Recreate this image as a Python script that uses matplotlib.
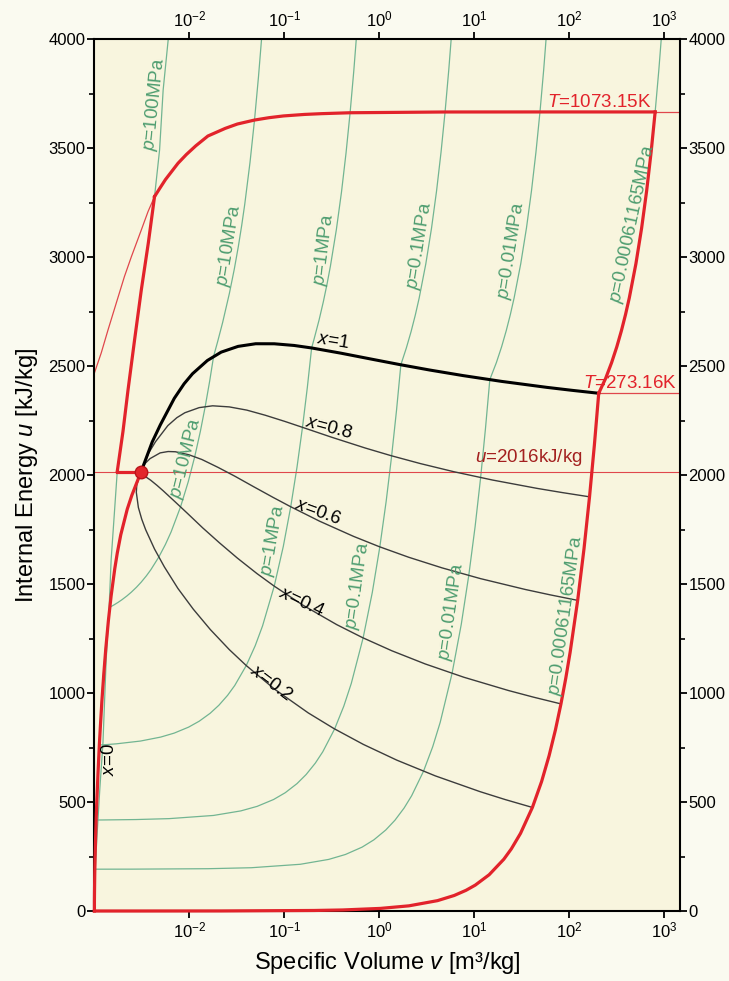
import matplotlib
matplotlib.use("Agg")
import matplotlib.pyplot as plt
from matplotlib.ticker import FixedLocator, MultipleLocator, NullLocator

plt.rcParams["font.family"] = ["Liberation Sans", "DejaVu Sans"]
plt.rcParams["mathtext.fontset"] = "custom"
plt.rcParams["mathtext.rm"] = "Liberation Sans"
plt.rcParams["mathtext.it"] = "Liberation Sans:italic"
plt.rcParams["mathtext.bf"] = "Liberation Sans:bold"

# saturation dome, T = 0.01 ... 373.95 C  (v in m3/kg, u in kJ/kg)
v_liq = [0.001000, 0.001000, 0.001002, 0.001008, 0.001017, 0.001029, 0.001043, 0.001060,
         0.001091, 0.001127, 0.001157, 0.001199, 0.001252, 0.001317, 0.001404, 0.001499,
         0.001638, 0.001741, 0.001895, 0.002217, 0.00248, 0.003106]
u_liq = [0.0, 42.0, 83.9, 167.5, 251.1, 334.9, 419.1, 503.6, 631.7, 762.1, 850.5, 963.2,
         1080.1, 1202.1, 1332.4, 1444.4, 1569.8, 1641.8, 1725.6, 1842.9, 1907.0, 2015.7]
v_vap = [206.0, 106.3, 57.76, 19.52, 7.667, 3.405, 1.672, 0.8915, 0.3925, 0.1941, 0.1272,
         0.07849, 0.05004, 0.03264, 0.02166, 0.01549, 0.01080, 0.008806, 0.006950, 0.004953,
         0.00406, 0.003106]
u_vap = [2374.9, 2388.7, 2402.3, 2429.4, 2456.0, 2481.6, 2506.0, 2528.9, 2559.1, 2582.8,
         2594.2, 2601.9, 2602.1, 2590.0, 2563.6, 2525.2, 2464.4, 2418.3, 2351.9, 2230.3,
         2151.0, 2015.7]

# quality lines
q02_v = [41.20, 21.26, 11.55, 3.905, 1.534, 0.6818, 0.3352, 0.1791, 0.07937, 0.03973, 0.02636,
         0.01666, 0.01101, 0.007581, 0.005456, 0.004297, 0.003470, 0.003154, 0.002906,
         0.002764, 0.002796, 0.003106]
q02_u = [475.0, 511.3, 547.6, 619.9, 692.1, 764.2, 836.5, 908.7, 1017.2, 1126.2, 1199.2, 1290.9,
         1384.5, 1479.7, 1578.6, 1660.6, 1748.7, 1797.1, 1850.9, 1920.4, 1955.8, 2015.7]
q04_v = [82.40, 42.52, 23.10, 7.809, 3.067, 1.363, 0.6694, 0.3572, 0.1577, 0.07833, 0.05156,
         0.03212, 0.02077, 0.01385, 0.009508, 0.007095, 0.005303, 0.004567, 0.003917,
         0.003311, 0.003112, 0.003106]
q04_u = [950.0, 980.7, 1011.3, 1072.3, 1133.1, 1193.6, 1253.9, 1313.7, 1402.7, 1490.4, 1548.0,
         1618.7, 1688.9, 1757.3, 1824.9, 1876.7, 1927.6, 1952.4, 1976.1, 1997.9, 2004.6, 2015.7]
q06_v = [123.6, 63.78, 34.66, 11.71, 4.601, 2.043, 1.004, 0.5353, 0.2359, 0.1169, 0.07676,
         0.04757, 0.03053, 0.02011, 0.01356, 0.009893, 0.007135, 0.005980, 0.004928,
         0.003859, 0.003428, 0.003106]
q06_u = [1424.9, 1450.0, 1474.9, 1524.6, 1574.0, 1622.9, 1671.2, 1718.8, 1788.1, 1854.5,
         1896.7, 1946.4, 1993.3, 2034.8, 2071.1, 2092.9, 2106.6, 2107.7, 2101.4, 2075.3,
         2053.4, 2015.7]
q08_v = [164.8, 85.04, 46.21, 15.62, 6.134, 2.724, 1.338, 0.7134, 0.3142, 0.1555, 0.1020,
         0.06303, 0.04028, 0.02637, 0.01761, 0.01269, 0.008968, 0.007393, 0.005939,
         0.004406, 0.003744, 0.003106]
q08_u = [1899.9, 1919.4, 1938.6, 1977.0, 2015.0, 2052.3, 2088.6, 2123.8, 2173.6, 2218.7,
         2245.5, 2274.2, 2297.7, 2312.4, 2317.4, 2309.0, 2285.5, 2263.0, 2226.6, 2152.8,
         2102.2, 2015.7]

# triple point line (T = 273.16 K)
tri_v = [0.001, 0.00306, 0.0216, 0.207, 0.413, 1.031, 2.061, 4.121, 6.181, 8.241, 10.30,
         14.42, 20.60, 24.72, 30.90, 41.20, 51.50, 61.80, 72.10, 82.40, 92.70, 103.0, 123.6,
         144.2, 164.8, 185.4, 206.0]
tri_u = [0.0, 0.024, 0.24, 2.4, 4.75, 11.9, 23.7, 47.5, 71.2, 95.0, 118.7, 166.2, 237.5,
         285.0, 356.2, 475.0, 593.7, 712.5, 831.2, 950.0, 1068.7, 1187.5, 1424.9, 1662.4,
         1899.9, 2137.4, 2374.9]

# isobars
p100_v = [0.00100, 0.00106, 0.00114, 0.00123, 0.00133, 0.00143, 0.00150, 0.00162, 0.00174,
          0.00200, 0.00226, 0.00265, 0.00312, 0.00370, 0.00430, 0.00486, 0.00530, 0.00600]
p100_u = [120, 330, 560, 771, 1151, 1395, 1610, 1820, 2016, 2200, 2390, 2620, 2849, 3065,
          3277, 3491, 3766, 4000]
p10_v = [0.000995, 0.001039, 0.001119, 0.001178, 0.001259, 0.001313, 0.001381,
         0.001452, 0.0015017, 0.001618, 0.001784, 0.001949, 0.002198, 0.002447, 0.002778,
         0.00311, 0.003524, 0.003939, 0.004768, 0.005597, 0.006425, 0.008083, 0.009741,
         0.0114, 0.01306, 0.01471, 0.01637, 0.01803,
         0.019877, 0.02244, 0.026436, 0.029782, 0.032811, 0.035655, 0.038378, 0.043597,
         0.048629, 0.053547, 0.058391]
p10_u = [0.2, 417.6, 758.2, 934.2, 1118.0, 1214.8, 1316.6,
         1393.3, 1396.8, 1404.8, 1416.3, 1427.8, 1445.1, 1462.4, 1485.4,
         1508.4, 1537.2, 1566.0, 1623.6, 1681.2, 1738.7, 1853.9, 1969.0,
         2084.1, 2199.3, 2314.4, 2429.6, 2544.7,
         2611.6, 2699.6, 2833.1, 2944.5, 3047.0, 3145.4, 3242.0, 3434.0,
         3628.2, 3826.5, 4028.0]
p1_v = [0.0010002, 0.001043, 0.001079,
        0.001127, 0.00132, 0.001707, 0.00306, 0.004992, 0.006925, 0.009824, 0.01272,
        0.01659, 0.02045, 0.02529, 0.03012, 0.03978, 0.04945, 0.05911, 0.07844, 0.09776,
        0.1171, 0.1364, 0.1557, 0.1751, 0.1944,
        0.20602, 0.23275, 0.25799, 0.2825, 0.30661, 0.35411, 0.40111, 0.44783, 0.49438,
        0.54083, 0.58721]
p1_u = [0.0, 418.7, 588.6,
        761.4, 763.2, 766.9, 779.6, 797.8, 816.0, 843.4, 870.7,
        907.1, 943.5, 989.1, 1034.6, 1125.7, 1216.8, 1307.8, 1490.0, 1672.1,
        1854.2, 2036.4, 2218.5, 2400.7, 2582.8,
        2622.3, 2710.4, 2793.7, 2875.7, 2957.9, 3125.0, 3297.5, 3476.3, 3661.7,
        3853.9, 4052.7]
p01_v = [0.001, 0.001008, 0.001029,
         0.001043, 0.001212, 0.002736, 0.006122, 0.01797, 0.0349, 0.05183, 0.07723, 0.1026,
         0.1365, 0.1703, 0.2127, 0.2550, 0.3396, 0.4243, 0.5089, 0.6782, 0.8475, 1.017,
         1.186, 1.355, 1.525, 1.694,
         1.9367, 2.1724, 2.4062, 2.6389, 3.1027, 3.5655, 4.0279, 4.49, 4.9519, 5.4137,
         5.8755]
p01_u = [0.0, 167.5, 334.9,
         417.4, 417.6, 419.5, 423.7, 438.3, 459.2, 480.0, 511.4, 542.7,
         584.5, 626.2, 678.4, 730.6, 835.0, 939.5, 1043.9, 1252.7, 1461.5, 1670.3,
         1879.1, 2088.0, 2296.8, 2505.6,
         2583.2, 2658.2, 2733.9, 2810.7, 2968.3, 3132.4, 3302.8, 3480.4, 3665.2, 3856.8,
         4055.0]
p001_v = [0.001,
          0.00101, 0.002477, 0.01568, 0.04502, 0.1477, 0.2944, 0.4411, 0.6611, 0.8812,
          1.1745, 1.468, 1.8346, 2.201, 2.935, 3.6682, 4.402, 5.869, 7.336, 8.802, 10.27,
          11.74, 13.20, 14.67,
          17.196, 19.513, 21.826, 24.136, 26.446, 31.063, 35.68, 40.296, 44.911, 49.527,
          54.143, 58.758]
p001_u = [0.0,
          191.8, 192.0, 194.0, 198.5, 214.3, 236.7, 259.2, 292.9, 326.6,
          371.5, 416.4, 472.6, 528.7, 641.0, 753.3, 865.6, 1090.2, 1314.9, 1539.5, 1764.1,
          1988.7, 2213.3, 2437.9,
          2515.5, 2587.9, 2661.4, 2736.1, 2812.3, 2969.3, 3132.9, 3303.3, 3480.8, 3665.4,
          3856.9, 4055.3]
ptr_v = [206.0, 243.8, 281.6, 319.3, 357.0, 394.7, 432.5, 507.9, 583.4, 658.8, 734.3,
         809.7, 885.2, 960.7]
ptr_u = [2374.9, 2443.6, 2515.5, 2587.9, 2661.4, 2736.1, 2812.3, 2969.3, 3132.9, 3303.3,
         3480.8, 3665.4, 3856.9, 4055.3]

# isotherm T = 1073.15 K
t1073_v = [809.7, 49.53, 4.952, 0.4944, 0.2467, 0.1637, 0.0979, 0.069, 0.0486, 0.0321,
           0.0239, 0.0157, 0.0117, 0.0093, 0.0076, 0.0056, 0.0049, 0.0043]
t1073_u = [3665.4, 3665.4, 3665.2, 3661.7, 3657.5, 3654.0, 3647.0, 3639.0, 3628.2, 3610.0,
           3590.0, 3555.0, 3510.0, 3470.0, 3430.0, 3355.0, 3316.0, 3277.0]
t1073_hp_v = [0.0043, 0.00367, 0.00312, 0.00245, 0.00207, 0.0017, 0.00139, 0.00118,
              0.00100, 0.00095]
t1073_hp_u = [3277, 3208, 3124, 3001, 2910, 2789, 2665, 2560, 2468, 2440]

v_crit, u_crit = 0.003106, 2015.7
u_triple_vap = 2374.9
u_t1073 = 3665.4

RED = "#e2232b"
THIN_RED = "#e0474c"
GREEN = "#72b592"
GREEN_TXT = "#4e9d70"
GREY = "#3c3c3c"

fig = plt.figure(figsize=(7.29, 9.81), dpi=100, facecolor="#fafaf0")
ax = fig.add_axes([94 / 729, 70 / 981, 586 / 729, 872 / 981])
ax.set_facecolor("#f8f5de")
ax.set_xscale("log")
ax.set_xlim(0.00099, 1480)
ax.set_ylim(0, 4000)

# isobars (green)
for vv, uu in [(p100_v, p100_u), (p10_v, p10_u), (p1_v, p1_u), (p01_v, p01_u),
               (p001_v, p001_u), (ptr_v, ptr_u)]:
    ax.plot(vv, uu, color=GREEN, lw=0.9, zorder=2)

# thin red helper lines
ax.axhline(u_crit, color=THIN_RED, lw=0.8, zorder=3)
ax.hlines(u_triple_vap, v_vap[0], 1480, color=THIN_RED, lw=0.9, zorder=3)
ax.hlines(u_t1073, ptr_v[11], 1480, color=THIN_RED, lw=0.9, zorder=3)
ax.plot(t1073_hp_v, t1073_hp_u, color=THIN_RED, lw=0.9, zorder=3)

# quality lines
for vv, uu in [(q02_v, q02_u), (q04_v, q04_u), (q06_v, q06_u), (q08_v, q08_u)]:
    ax.plot(vv, uu, color=GREY, lw=1.0, zorder=3)
ax.plot(v_vap, u_vap, color="black", lw=2.2, zorder=4)
ax.plot(v_liq, u_liq, color="black", lw=1.0, zorder=3)

# region boundary (thick red)
ax.plot(v_liq, u_liq, color=RED, lw=2.3, zorder=5, clip_on=False)
ax.plot(tri_v, tri_u, color=RED, lw=2.3, zorder=5, clip_on=False)
ax.plot(ptr_v[:12], ptr_u[:12], color=RED, lw=2.3, zorder=5)
ax.plot(t1073_v, t1073_u, color=RED, lw=2.3, zorder=5)
ax.plot(p100_v[8:15], p100_u[8:15], color=RED, lw=2.3, zorder=5)
ax.plot([p100_v[8], v_crit], [u_crit, u_crit], color=RED, lw=2.3, zorder=5)
ax.plot(v_crit, u_crit, "o", ms=9, mfc="#e3262b", mec="#b8161b", mew=1.0, zorder=6)

# labels
fs = 13.5
kw = dict(ha="center", va="center", rotation_mode="anchor", zorder=7, fontsize=fs)
for txt, v, u, rot in [("$x$=1", 0.324, 2612, -9), ("$x$=0.8", 0.30, 2216, -15),
                       ("$x$=0.6", 0.224, 1830, -20), ("$x$=0.4", 0.152, 1417, -25),
                       ("$x$=0.2", 0.0733, 1046, -37), ("$x$=0", 0.00143, 693, 90)]:
    ax.text(v, u, txt, rotation=rot, color="black", **kw)

for txt, v, u, rot in [("$p$=100MPa", 0.00428, 3702, 84), ("$p$=10MPa", 0.0261, 3055, 81),
                       ("$p$=1MPa", 0.26, 3032, 83), ("$p$=0.1MPa", 2.69, 3050, 81),
                       ("$p$=0.01MPa", 24.8, 3032, 81), ("$p$=0.00061165MPa", 471, 3151, 78),
                       ("$p$=10MPa", 0.0093, 2078, 76), ("$p$=1MPa", 0.077, 1702, 80),
                       ("$p$=0.1MPa", 0.59, 1491, 82), ("$p$=0.01MPa", 5.8, 1372, 82),
                       ("$p$=0.00061165MPa", 93.1, 1353, 82)]:
    ax.text(v, u, txt, rotation=rot, color=GREEN_TXT, **kw)

ax.text(747, 3672, "$T$=1073.15K", color=RED, fontsize=fs, ha="right", va="bottom", zorder=7)
ax.text(139.8, 2381, "$T$=273.16K", color=RED, fontsize=fs, ha="left", va="bottom", zorder=7)
ax.text(140, 2030, "$u$=2016kJ/kg", color="#a3201f", fontsize=fs, ha="right", va="bottom",
        zorder=7)

# axes styling
ax.xaxis.set_major_locator(FixedLocator([1e-2, 1e-1, 1e0, 1e1, 1e2, 1e3]))
ax.xaxis.set_minor_locator(NullLocator())
ax.yaxis.set_major_locator(MultipleLocator(500))
ax.yaxis.set_minor_locator(MultipleLocator(250))
ax.tick_params(axis="x", which="both", top=True, labeltop=True, direction="out",
               length=5, width=1.3, labelsize=12, pad=2)
ax.tick_params(axis="y", which="major", right=True, labelright=True, direction="out",
               length=5, width=1.3, labelsize=12, pad=1)
ax.tick_params(axis="y", which="minor", right=True, direction="out", length=3.5, width=1.2)
for sp in ax.spines.values():
    sp.set_linewidth(1.5)
    sp.set_zorder(4.5)

ax.set_xlabel("Specific Volume $v$ [m³/kg]", fontsize=17, labelpad=7)
ax.set_ylabel("Internal Energy $u$ [kJ/kg]", fontsize=17, labelpad=6)

fig.savefig("out.png", dpi=100, facecolor=fig.get_facecolor())
